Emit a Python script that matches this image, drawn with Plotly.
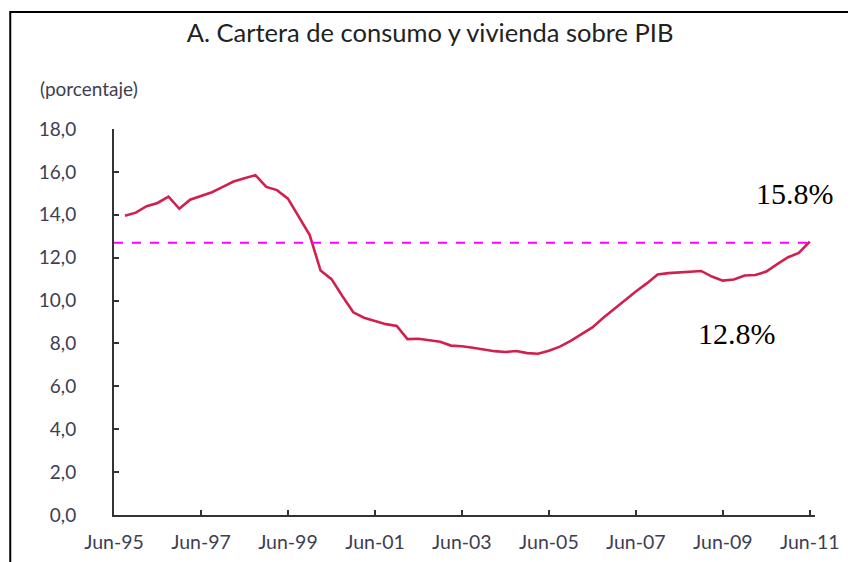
import plotly.graph_objects as go

# ---- data ----
dates = [
    "1995-09-01", "1995-12-01", "1996-03-01", "1996-06-01", "1996-09-01", "1996-12-01",
    "1997-03-01", "1997-06-01", "1997-09-01", "1997-12-01", "1998-03-01", "1998-06-01",
    "1998-09-01", "1998-12-01", "1999-03-01", "1999-06-01", "1999-09-01", "1999-12-01",
    "2000-03-01", "2000-06-01", "2000-09-01", "2000-12-01", "2001-03-01", "2001-06-01",
    "2001-09-01", "2001-12-01", "2002-03-01", "2002-06-01", "2002-09-01", "2002-12-01",
    "2003-03-01", "2003-06-01", "2003-09-01", "2003-12-01", "2004-03-01", "2004-06-01",
    "2004-09-01", "2004-12-01", "2005-03-01", "2005-06-01", "2005-09-01", "2005-12-01",
    "2006-03-01", "2006-06-01", "2006-09-01", "2006-12-01", "2007-03-01", "2007-06-01",
    "2007-09-01", "2007-12-01", "2008-03-01", "2008-06-01", "2008-09-01", "2008-12-01",
    "2009-03-01", "2009-06-01", "2009-09-01", "2009-12-01", "2010-03-01", "2010-06-01",
    "2010-09-01", "2010-12-01", "2011-03-01", "2011-06-01",
]
cartera_pib = [
    13.95, 14.10, 14.40, 14.55, 14.85, 14.28,
    14.70, 14.88, 15.05, 15.30, 15.55, 15.70,
    15.85, 15.30, 15.15, 14.75, 13.90, 13.05,
    11.40, 11.00, 10.20, 9.45, 9.20, 9.05,
    8.90, 8.82, 8.20, 8.22, 8.15, 8.08,
    7.90, 7.87, 7.80, 7.72, 7.64, 7.60,
    7.65, 7.55, 7.52, 7.66, 7.85, 8.12,
    8.42, 8.75, 9.20, 9.62, 10.02, 10.42,
    10.80, 11.22, 11.28, 11.32, 11.36, 11.38,
    11.12, 10.93, 10.98, 11.17, 11.19, 11.35,
    11.70, 12.02, 12.22, 12.75,
]
ref_level = 12.7
ref_dates = ["1995-06-01", "2011-06-01"]

tick_dates = ["1995-06-01", "1997-06-01", "1999-06-01", "2001-06-01", "2003-06-01",
              "2005-06-01", "2007-06-01", "2009-06-01", "2011-06-01"]
tick_labels = ["Jun-95", "Jun-97", "Jun-99", "Jun-01", "Jun-03",
               "Jun-05", "Jun-07", "Jun-09", "Jun-11"]
y_ticks = [0, 2, 4, 6, 8, 10, 12, 14, 16, 18]
x_range = ["1995-06-01", "2011-07-15"]

title_text = "A. Cartera de consumo y vivienda sobre PIB"
unit_text = "(porcentaje)"
note_high = "15.8%"
note_low = "12.8%"

# ---- figure ----
fig = go.Figure()
fig.add_trace(go.Scatter(
    x=ref_dates, y=[ref_level] * len(ref_dates), mode="lines", xaxis="x2", yaxis="y2",
    line=dict(color="#FF00FF", width=2, dash="dash"), hoverinfo="skip",
))
fig.add_trace(go.Scatter(
    x=dates, y=cartera_pib, mode="lines",
    line=dict(color="#D0214E", width=2.6),
))

txt_color = "#3E3E52"
axis_color = "#333333"

fig.update_layout(
    width=856, height=562,
    # the page body has an 8px margin; margins compensate for it
    margin=dict(l=106, r=49, t=121, b=55),
    paper_bgcolor="white", plot_bgcolor="white",
    showlegend=False,
    separators=",.",
    title=dict(text=title_text, x=0.493, y=0.9555, xanchor="center", yanchor="middle",
               font=dict(family="Lato, sans-serif", size=25.5, color="#222222")),
    # primary axes: line + labels (transparent outside ticks set label distance)
    xaxis=dict(
        type="date", range=x_range,
        tickmode="array", tickvals=tick_dates, ticktext=tick_labels,
        ticks="outside", ticklen=9, tickwidth=1, tickcolor="rgba(0,0,0,0)",
        showline=True, linecolor=axis_color, linewidth=2,
        showgrid=False, zeroline=False,
        tickfont=dict(family="Lato, sans-serif", size=19.5, color=txt_color),
    ),
    yaxis=dict(
        range=[0, 18], tickmode="array", tickvals=y_ticks, tickformat=".1f",
        ticks="outside", ticklen=32, tickwidth=1, tickcolor="rgba(0,0,0,0)",
        showline=True, linecolor=axis_color, linewidth=2,
        showgrid=False, zeroline=False,
        tickfont=dict(family="Lato, sans-serif", size=19, color=txt_color),
    ),
    # overlay axes: visible inside tick marks
    xaxis2=dict(
        type="date", range=x_range, overlaying="x", side="bottom",
        tickmode="array", tickvals=tick_dates,
        ticks="inside", ticklen=5, tickwidth=2, tickcolor=axis_color,
        showticklabels=False, showline=False, showgrid=False, zeroline=False,
    ),
    yaxis2=dict(
        range=[0, 18], overlaying="y", side="left", tickmode="array", tickvals=y_ticks,
        ticks="inside", ticklen=5, tickwidth=2, tickcolor=axis_color,
        showticklabels=False, showline=False, showgrid=False, zeroline=False,
    ),
    annotations=[
        dict(text=unit_text, xref="paper", yref="paper", x=-0.108, y=1.106,
             xanchor="left", yanchor="middle", showarrow=False,
             font=dict(family="Lato, sans-serif", size=19, color=txt_color)),
        dict(text=note_high, xref="paper", yref="paper", x=0.971, y=0.834,
             xanchor="center", yanchor="middle", showarrow=False,
             font=dict(family="Liberation Serif, Times New Roman, serif", size=30, color="black")),
        dict(text=note_low, xref="paper", yref="paper", x=0.889, y=0.4715,
             xanchor="center", yanchor="middle", showarrow=False,
             font=dict(family="Liberation Serif, Times New Roman, serif", size=30, color="black")),
    ],
    shapes=[
        dict(type="rect", xref="paper", yref="paper", x0=-0.148, x1=1.051, y0=-0.2, y1=1.303,
             line=dict(color="black", width=2), fillcolor="rgba(0,0,0,0)", layer="below"),
    ],
)

fig.write_html("out.html")
